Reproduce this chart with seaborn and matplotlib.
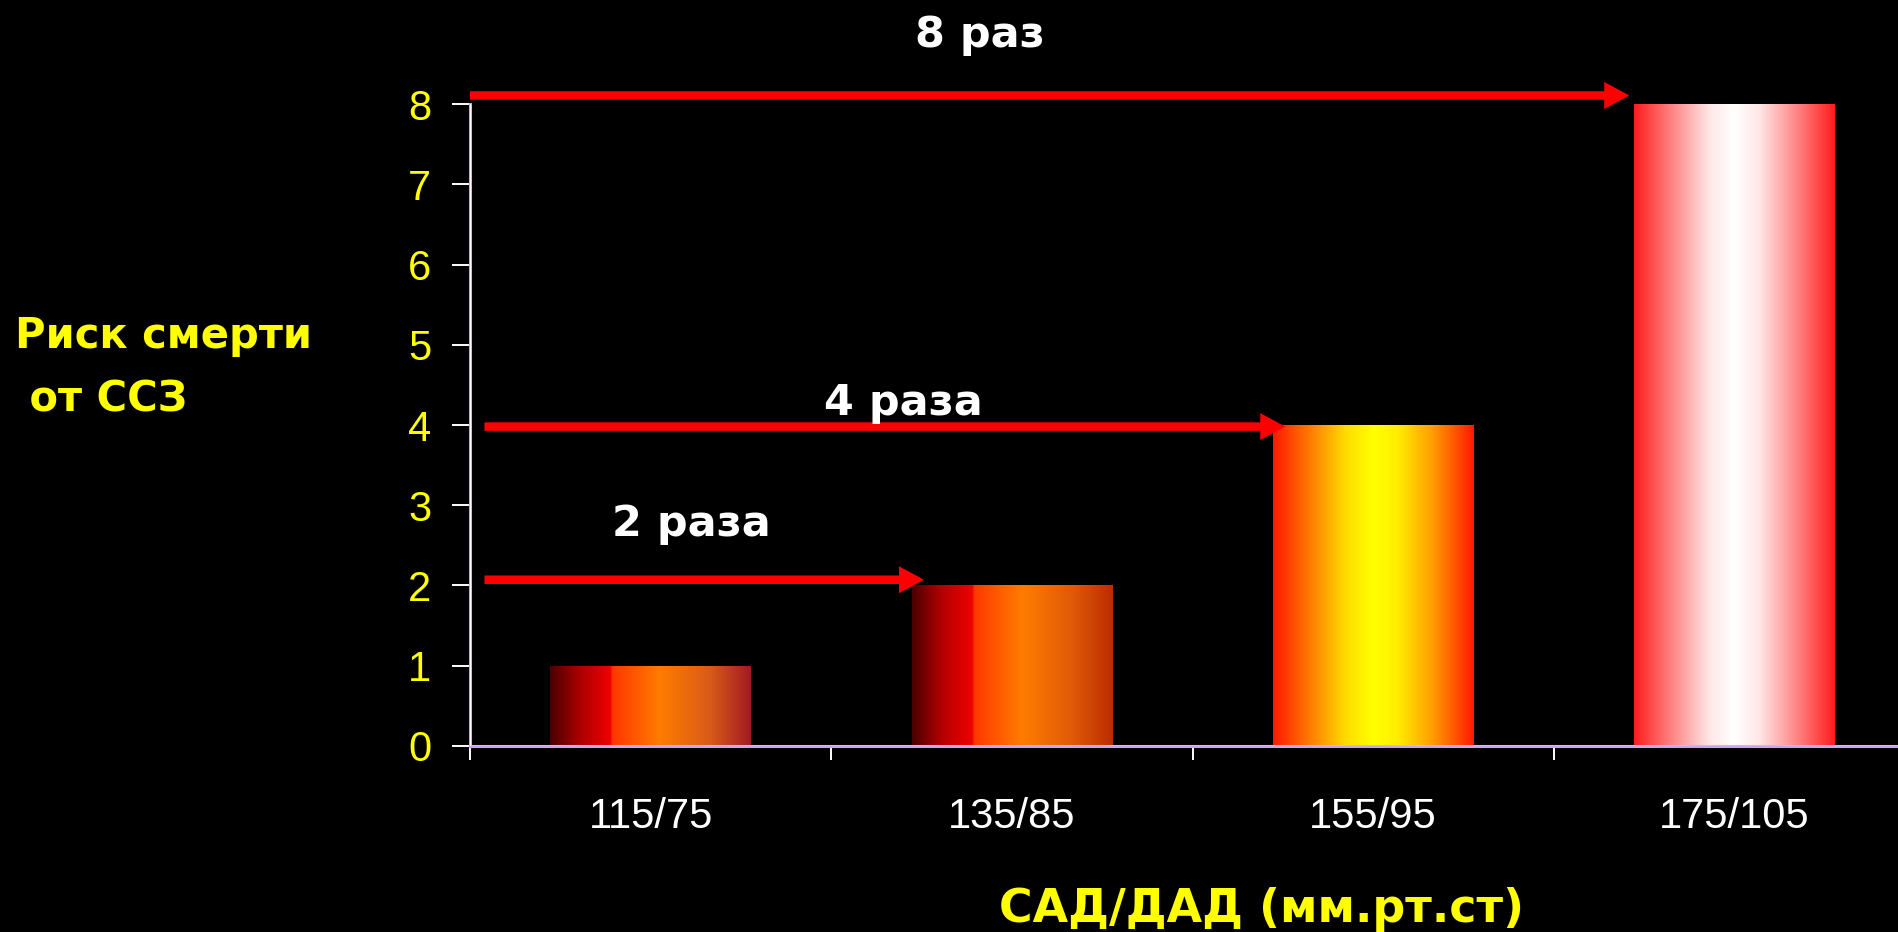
import numpy as np
import matplotlib
matplotlib.use("Agg")
import matplotlib.pyplot as plt
from matplotlib.colors import LinearSegmentedColormap
from matplotlib.patches import FancyArrow
import pandas as pd
import seaborn as sns

# ---- data -------------------------------------------------------------
categories = ["115/75", "135/85", "155/95", "175/105"]
risk = [1, 2, 4, 8]
y_ticks = [0, 1, 2, 3, 4, 5, 6, 7, 8]
fold_labels = ["2 раза", "4 раза", "8 раз"]
fold_levels = [2, 4, 8]

y_title = ["Риск смерти", " от ССЗ"]
x_title = "САД/ДАД (мм.рт.ст)"

# ---- style ------------------------------------------------------------
sns.set_style("dark")
plt.rcParams["font.family"] = ["Liberation Sans", "DejaVu Sans"]

W, H, DPI = 1898, 932, 100
fig = plt.figure(figsize=(W / DPI, H / DPI), dpi=DPI, facecolor="black")
ax = fig.add_axes([470 / W, 1 - 745.7 / H, 1445.2 / W, 641.4 / H])
ax.set_facecolor("black")

df = pd.DataFrame({"bp": categories, "risk": risk})
sns.barplot(data=df, x="bp", y="risk", ax=ax, width=0.555, color="black",
            saturation=1, errorbar=None, linewidth=0)

# horizontal gradients painted inside each bar
gradients = [
    [(0.0, "#4a0000"), (0.14, "#a80000"), (0.30, "#f00000"), (0.31, "#ff3600"),
     (0.55, "#ff7c00"), (0.80, "#d85a1a"), (1.0, "#a31a22")],
    [(0.0, "#4a0000"), (0.14, "#b00000"), (0.30, "#f00000"), (0.31, "#ff3800"),
     (0.55, "#ff7c00"), (0.80, "#e05a08"), (1.0, "#bb2c00")],
    [(0.0, "#ff1800"), (0.18, "#ff7a00"), (0.36, "#ffdc00"), (0.5, "#ffff00"),
     (0.62, "#ffee00"), (0.80, "#ff9a00"), (1.0, "#ff1800")],
    [(0.0, "#ff1c1c"), (0.18, "#ff8080"), (0.38, "#ffe8e8"), (0.5, "#ffffff"),
     (0.62, "#ffe8e8"), (0.82, "#ff8080"), (1.0, "#ff1c1c")],
]
ramp = np.linspace(0, 1, 512).reshape(1, -1)
bars = list(ax.patches)
for patch, stops in zip(bars, gradients):
    x0, y0 = patch.get_x(), patch.get_y()
    w, h = patch.get_width(), patch.get_height()
    cmap = LinearSegmentedColormap.from_list("bar", stops)
    im = ax.imshow(ramp, cmap=cmap, extent=[x0, x0 + w, y0, y0 + h],
                   aspect="auto", interpolation="bicubic", zorder=2)
    im.set_clip_path(patch)

ax.set_xlim(-0.5, 3.5)
ax.set_ylim(0, 8)

# ---- axes, ticks ------------------------------------------------------
for side in ("top", "right"):
    ax.spines[side].set_visible(False)
for side in ("left", "bottom"):
    ax.spines[side].set_color("#c9a4f4")
    ax.spines[side].set_linewidth(2.2)
    ax.spines[side].set_zorder(4)
# thin white rule along the inner edge of the axis lines
ax.axvline(-0.5, color="white", lw=1.0, zorder=4.5)
ax.axhline(0, color="white", lw=1.0, zorder=4.5)

ax.set_yticks(y_ticks)
ax.set_yticklabels([str(v) for v in y_ticks])
ax.tick_params(axis="y", left=True, colors="white", labelcolor="#ffff00",
               length=13, width=1.4, pad=15, labelsize=30)

ax.set_xticks(np.arange(-0.5, 4.0, 1.0))
ax.set_xticklabels([])
ax.set_xticks(range(len(categories)), labels=categories, minor=True)
ax.tick_params(axis="x", which="major", bottom=True, colors="white",
               length=10, width=1.4)
ax.tick_params(axis="x", which="minor", bottom=True, length=0, pad=37,
               labelsize=30, labelcolor="white")
ax.set_xlabel("")
ax.set_ylabel("")
ax.grid(False)

# ---- fold-increase arrows --------------------------------------------
arrow_start = [-0.46, -0.46, -0.5]
arrow_lift = [0.07, -0.02, 0.11]
tip_shift = [0.034, 0.034, -0.014]
px_x = 1445.2 / 4.0
px_y = 641.4 / 8.0
for i, lvl in enumerate(fold_levels):
    target = bars[risk.index(lvl)]
    tip = target.get_x() + tip_shift[i]
    y = lvl + arrow_lift[i]
    ax.add_patch(FancyArrow(arrow_start[i], y, tip - arrow_start[i], 0,
                            width=8.5 / px_y, head_width=27 / px_y,
                            head_length=25 / px_x, length_includes_head=True,
                            color="#ff0000", lw=0, zorder=5, clip_on=False))

label_pos = [(0.112, 2.615), (0.70, 4.12), (0.912, 8.716)]
for text, (tx, ty) in zip(fold_labels, label_pos):
    ax.text(tx, ty, text, ha="center", va="baseline", color="white",
            fontsize=31, fontweight="bold", family="DejaVu Sans",
            clip_on=False, zorder=6)

# ---- titles -----------------------------------------------------------
fig.text(15 / W, 1 - 347.7 / H, y_title[0], ha="left", va="baseline",
         color="#ffff00", fontsize=30, fontweight="bold", family="DejaVu Sans")
fig.text(15 / W, 1 - 411 / H, y_title[1], ha="left", va="baseline",
         color="#ffff00", fontsize=30, fontweight="bold", family="DejaVu Sans")
fig.text(1262 / W, 1 - 922 / H, x_title, ha="center", va="baseline",
         color="#ffff00", fontsize=33, fontweight="bold", family="DejaVu Sans")

fig.savefig("out.png", dpi=DPI, facecolor="black")
